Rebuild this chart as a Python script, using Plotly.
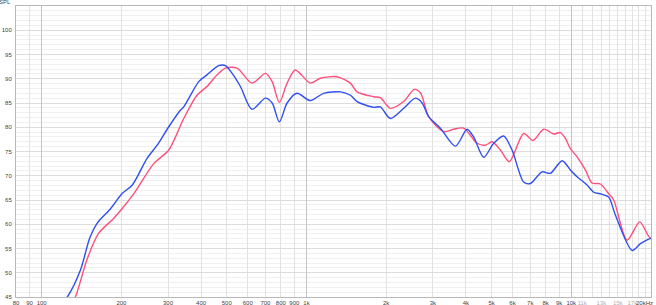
import plotly.graph_objects as go

# ---- data ----
blue_freq = [118, 125, 140, 152, 162, 182, 201, 220, 250, 273, 302, 334, 344, 392, 421, 466, 494, 524, 563,
             623, 700, 742, 790, 845, 921, 1034, 1161, 1343, 1465, 1553, 1794, 1901, 2074, 2328, 2578, 2733,
             2893, 3204, 3651, 4042, 4279, 4669, 5093, 5555, 5974, 6610, 7008, 7757, 8337, 9233, 9922, 10517,
             11470, 12150, 13000, 13840, 14670, 16970, 18240, 19500, 20000]
blue_spl = [43.5, 45.0, 50.5, 57.2, 60.2, 63.2, 66.3, 68.1, 73.6, 76.3, 80.1, 83.5, 84.2, 89.4, 90.8, 92.7, 92.7,
            91.1, 88.4, 83.7, 86.0, 85.0, 81.1, 85.0, 87.0, 85.5, 87.0, 87.3, 86.6, 85.3, 84.1, 84.2, 81.8, 83.9,
            86.0, 85.0, 82.2, 79.8, 76.1, 79.6, 78.0, 73.8, 76.7, 78.2, 75.3, 68.7, 68.4, 70.8, 70.5, 73.1, 71.2,
            69.8, 68.1, 66.6, 66.2, 65.6, 61.9, 54.6, 56.0, 56.9, 57.1]

red_freq = [128, 134, 148, 164, 187, 204, 223, 265, 302, 344, 386, 421, 460, 494, 547, 623, 700, 742, 790,
            845, 908, 1034, 1129, 1305, 1465, 1553, 1794, 1901, 2074, 2328, 2556, 2700, 2893, 3297, 3596, 3924,
            4410, 4739, 5022, 5398, 5836, 6610, 7173, 7866, 8581, 9096, 9500, 9922, 10517, 11305, 11980, 12880,
            13840, 14460, 16240, 18130, 19500, 20000]
red_spl = [43.5, 45.0, 52.6, 58.1, 61.2, 63.6, 66.3, 72.5, 75.3, 81.8, 86.6, 88.4, 90.8, 92.2, 92.2, 89.1,
           91.1, 89.4, 85.1, 89.1, 91.8, 89.1, 90.1, 90.4, 89.1, 87.3, 86.3, 86.1, 83.9, 85.3, 87.8, 87.0, 82.2,
           79.1, 79.6, 79.8, 76.7, 76.3, 77.0, 75.3, 72.9, 78.7, 77.3, 79.6, 78.6, 78.9, 77.7, 75.6, 73.9, 71.2,
           68.5, 68.3, 66.3, 65.0, 56.7, 60.5, 57.7, 57.0]

x_tick_vals = [80, 90, 100, 200, 300, 400, 500, 600, 700, 800, 900, 1000, 2000, 3000, 4000, 5000, 6000, 7000,
               8000, 9000, 10000, 11000, 12000, 13000, 14000, 15000, 16000, 17000, 18000, 19000, 20000]
x_tick_text = ["80", "90", "100", "200", "300", "400", "500", "600", "700", "800", "900", "1k", "2k", "3k", "4k",
               "5k", "6k", "7k", "8k", "9k", "10k", "11k", "", "13k", "", "15k", "", "17k", "", "", ""]
faded_labels = ["11k", "13k", "15k", "17k"]
last_label = "20kHz"
x_major_vals = [100, 1000, 10000]
y_tick_vals = [45, 50, 55, 60, 65, 70, 75, 80, 85, 90, 95, 100]

FONT = "Liberation Sans, Arial, sans-serif"

ticktext = [f"<span style='color:#b0b0b0'>{t}</span>" if t in faded_labels else t for t in x_tick_text]

fig = go.Figure()
fig.add_trace(go.Scatter(x=red_freq, y=red_spl, mode="lines",
                         line=dict(color="#ff4f7b", width=1.4, shape="spline", smoothing=0.8),
                         showlegend=False, hoverinfo="skip"))
fig.add_trace(go.Scatter(x=blue_freq, y=blue_spl, mode="lines",
                         line=dict(color="#2f4ff0", width=1.4, shape="spline", smoothing=0.8),
                         showlegend=False, hoverinfo="skip"))
# invisible trace on overlay axis to carry the darker decade gridlines
fig.add_trace(go.Scatter(x=x_major_vals, y=[None] * 3, xaxis="x2", mode="lines",
                         showlegend=False, hoverinfo="skip"))

fig.update_layout(
    width=656, height=305,
    margin=dict(l=16, r=5, t=6, b=8, autoexpand=False),
    paper_bgcolor="white", plot_bgcolor="white",
    font=dict(family=FONT, size=6, color="#444"),
    xaxis=dict(type="log", range=[1.90309, 4.30103], tickmode="array", automargin=False,
               tickvals=x_tick_vals, ticktext=ticktext, tickangle=0, showgrid=True, gridcolor="#e2e2e2",
               gridwidth=1, ticks="", tickfont=dict(size=6, color="#444"),
               showline=True, linecolor="#b8b8b8", linewidth=1, mirror=True, zeroline=False,
               ticklabelstandoff=0),
    xaxis2=dict(type="log", range=[1.90309, 4.30103], overlaying="x", tickmode="array", automargin=False,
                tickvals=x_major_vals, showticklabels=False, showgrid=True, gridcolor="#c4c4c4",
                gridwidth=1, ticks="", zeroline=False, showline=False),
    yaxis=dict(range=[45, 105], tickmode="array", tickvals=y_tick_vals, showgrid=True, automargin=False,
               gridcolor="#dcdcdc", gridwidth=1, ticks="", tickfont=dict(size=6, color="#444"),
               minor=dict(dtick=1, tick0=45, showgrid=True, gridcolor="#f0f0f0", gridwidth=1),
               showline=True, linecolor="#b8b8b8", linewidth=1, mirror=True, zeroline=False,
               ticklabelstandoff=2),
    annotations=[
        dict(text="SPL", xref="paper", yref="paper", x=0, y=1, xanchor="right",
             yanchor="bottom", xshift=-3, yshift=-1, showarrow=False,
             font=dict(size=6, color="#444")),
        dict(text=last_label, xref="paper", yref="paper", x=1, y=0, xanchor="right",
             yanchor="top", xshift=4, yshift=-1, showarrow=False,
             font=dict(size=6, color="#444")),
    ],
)

fig.write_html("out.html")
